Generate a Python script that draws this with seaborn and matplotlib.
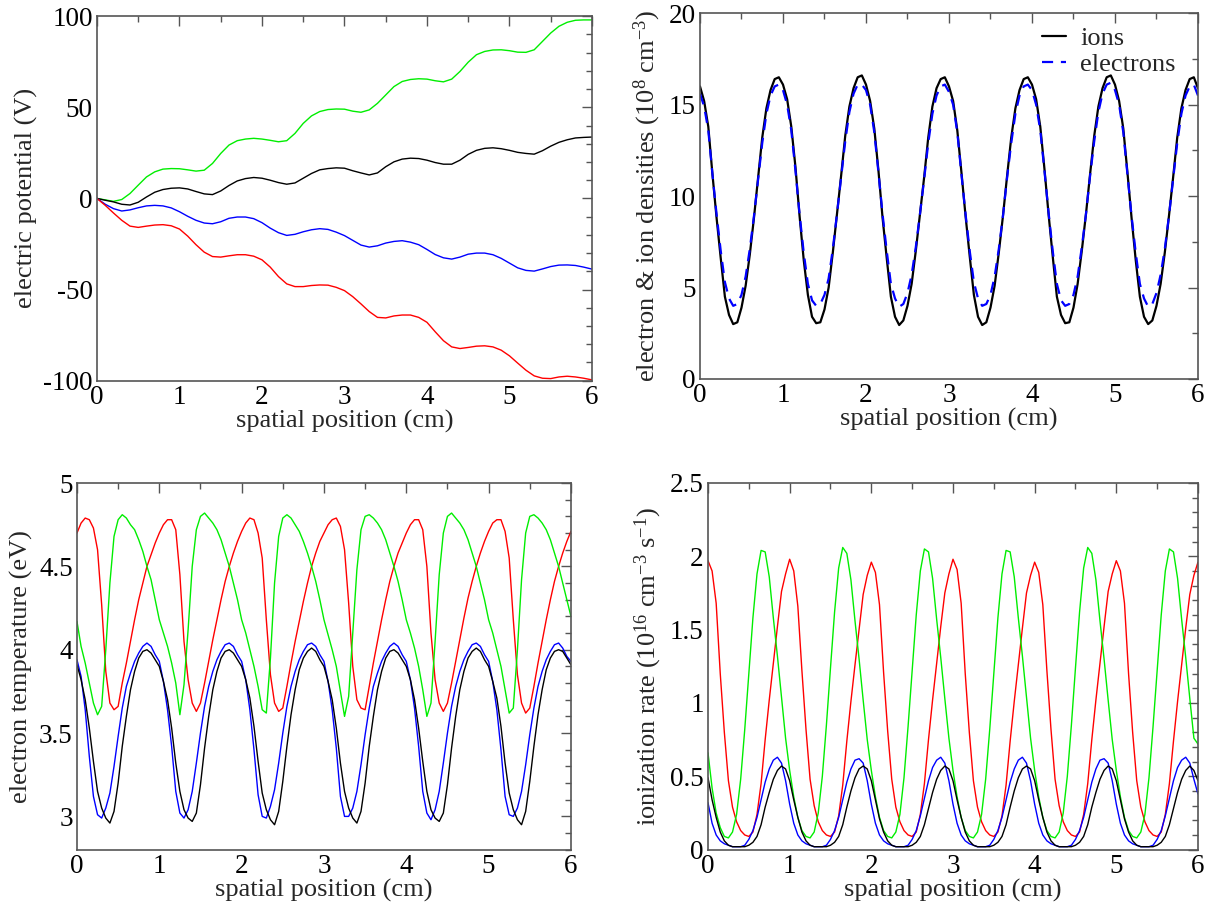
import numpy as np
import pandas as pd
import matplotlib
matplotlib.use("Agg")
import matplotlib.pyplot as plt
from matplotlib.ticker import MultipleLocator
import seaborn as sns

# ---------------------------------------------------------------
# Spatial grids (cm)
# ---------------------------------------------------------------
x_coarse = np.round(np.arange(61) * 0.1, 2)   # potential profiles
x_fine = np.round(np.arange(121) * 0.05, 3)   # densities, temperature, ionization

# ---------------------------------------------------------------
# Electric potential (V), one value per 0.1 cm
# ---------------------------------------------------------------
phi_black = [0, -1.0, -1.9, -3.2, -3.6, -2.1, 0.8, 3.4, 4.9, 5.6,
             5.8, 5.2, 3.8, 2.5, 2.1, 4.1, 7.1, 9.6, 10.9, 11.5,
             11.1, 10.0, 8.7, 7.8, 8.5, 11.1, 13.7, 15.7, 16.4, 16.8,
             16.6, 15.2, 14.0, 12.9, 14.0, 17.4, 20.1, 21.6, 22.1, 21.9,
             21.0, 19.7, 18.8, 18.8, 21.0, 24.2, 26.4, 27.5, 27.8, 27.3,
             26.4, 25.3, 24.7, 24.3, 26.2, 28.7, 30.8, 32.2, 33.2, 33.5,
             33.7]
phi_red = [0, -3.8, -8.0, -12.0, -15.2, -15.9, -15.2, -14.6, -14.4, -15.0,
           -16.8, -20.7, -25.4, -29.5, -31.9, -32.2, -31.5, -30.9, -30.9, -31.7,
           -33.7, -37.7, -42.9, -46.9, -48.4, -48.4, -47.8, -47.5, -47.6, -48.8,
           -50.6, -53.9, -57.9, -62.1, -65.3, -65.6, -64.5, -64.0, -64.0, -65.3,
           -68.0, -73.2, -78.1, -81.5, -82.4, -81.8, -81.1, -80.9, -81.5, -83.3,
           -86.4, -90.4, -94.3, -97.4, -98.7, -98.9, -98.0, -97.6, -98.0, -98.7,
           -99.6]
phi_green = [0, -0.8, -1.6, -0.6, 2.7, 7.3, 11.8, 14.6, 16.1, 16.4,
             16.3, 15.7, 15.0, 15.5, 19.2, 24.7, 29.3, 31.7, 32.6, 33.0,
             32.6, 31.9, 31.1, 31.7, 35.7, 41.2, 45.3, 47.7, 48.8, 49.1,
             49.0, 47.9, 47.3, 48.6, 52.2, 56.8, 61.4, 64.2, 65.3, 65.7,
             65.5, 64.6, 64.0, 65.5, 69.7, 74.8, 78.9, 80.7, 81.5, 81.6,
             81.1, 80.3, 80.2, 81.6, 86.2, 90.8, 94.5, 96.7, 97.8, 98.0,
             98.0]
phi_blue = [0, -3.2, -5.6, -6.9, -6.3, -5.1, -4.1, -3.8, -4.1, -5.2,
            -7.3, -9.8, -12.0, -13.5, -13.9, -12.8, -10.9, -10.2, -10.2, -11.1,
            -13.3, -16.3, -18.8, -20.3, -19.7, -18.3, -17.2, -16.6, -17.0, -18.5,
            -20.4, -23.0, -25.6, -26.7, -26.0, -24.5, -23.6, -23.2, -24.0, -25.4,
            -28.0, -30.8, -32.6, -33.3, -32.2, -30.6, -30.0, -30.0, -30.9, -32.9,
            -35.5, -38.1, -39.5, -39.9, -38.7, -37.4, -36.6, -36.5, -36.8, -37.7,
            -38.8]

# ---------------------------------------------------------------
# Ion and electron densities (1e8 cm^-3), one value per 0.05 cm
# ---------------------------------------------------------------
n_ions = [16.0, 15.2, 13.8, 11.2, 8.8, 6.6, 4.5, 3.5, 3.0, 3.1, 3.9, 5.1, 6.8, 8.8, 11.0, 13.2, 14.8, 15.8, 16.4, 16.5,
          16.1, 15.3, 13.8, 11.6, 8.9, 6.5, 4.6, 3.4, 3.05, 3.1, 3.8, 5.0, 6.9, 9.0, 11.1, 13.3, 14.9, 15.9, 16.5, 16.6,
          16.1, 15.2, 13.7, 11.4, 8.8, 6.6, 4.5, 3.4, 2.95, 3.2, 4.0, 5.2, 7.0, 9.0, 11.0, 13.2, 14.9, 15.9, 16.4, 16.5,
          16.0, 15.2, 13.6, 11.3, 8.9, 6.7, 4.6, 3.4, 2.95, 3.1, 3.9, 5.1, 6.9, 8.9, 11.1, 13.2, 14.8, 15.8, 16.4, 16.5,
          16.1, 15.3, 13.8, 11.5, 9.0, 6.7, 4.5, 3.5, 3.05, 3.1, 3.9, 5.2, 7.0, 9.0, 11.2, 13.3, 14.9, 15.9, 16.5, 16.6,
          16.1, 15.2, 13.7, 11.3, 8.8, 6.5, 4.5, 3.4, 3.0, 3.2, 4.0, 5.2, 6.9, 8.9, 11.0, 13.2, 14.8, 15.8, 16.4, 16.5,
          15.9]
n_electrons = [15.6, 14.9, 13.6, 11.2, 9.0, 7.0, 5.3, 4.4, 4.0, 4.1, 4.6, 5.6, 7.1, 8.9, 10.9, 12.9, 14.5, 15.5, 16.0, 16.1,
               15.8, 15.0, 13.6, 11.4, 9.0, 6.9, 5.2, 4.3, 4.0, 4.1, 4.6, 5.5, 7.1, 9.0, 11.0, 13.0, 14.6, 15.6, 16.1, 16.1,
               15.8, 15.0, 13.5, 11.3, 9.0, 7.0, 5.2, 4.4, 3.95, 4.1, 4.7, 5.7, 7.2, 9.0, 10.9, 12.9, 14.5, 15.5, 16.0, 16.1,
               15.7, 15.0, 13.5, 11.2, 9.0, 7.0, 5.3, 4.4, 4.0, 4.1, 4.6, 5.6, 7.1, 8.9, 11.0, 12.9, 14.5, 15.5, 16.0, 16.1,
               15.8, 15.0, 13.6, 11.4, 9.1, 7.0, 5.2, 4.3, 4.0, 4.1, 4.6, 5.6, 7.2, 9.0, 11.1, 13.0, 14.6, 15.6, 16.1, 16.2,
               15.8, 15.0, 13.5, 11.2, 8.9, 6.9, 5.2, 4.4, 3.95, 4.1, 4.7, 5.7, 7.1, 8.9, 10.9, 12.9, 14.5, 15.5, 16.0, 16.1,
               15.5]

# ---------------------------------------------------------------
# Electron temperature (eV), one value per 0.05 cm
# ---------------------------------------------------------------
te_black = [3.91, 3.82, 3.70, 3.53, 3.33, 3.15, 3.05, 2.99, 2.96, 3.03, 3.20, 3.42, 3.60, 3.76, 3.87, 3.95, 3.99, 4.00, 3.98, 3.94,
            3.90, 3.81, 3.70, 3.53, 3.32, 3.15, 3.04, 2.99, 2.97, 3.02, 3.19, 3.41, 3.60, 3.76, 3.87, 3.95, 3.99, 4.00, 3.98, 3.94,
            3.90, 3.82, 3.71, 3.54, 3.33, 3.14, 3.04, 2.98, 2.95, 3.03, 3.21, 3.42, 3.61, 3.76, 3.88, 3.95, 3.99, 4.01, 3.99, 3.94,
            3.90, 3.81, 3.70, 3.53, 3.32, 3.15, 3.05, 2.99, 2.96, 3.03, 3.20, 3.42, 3.60, 3.76, 3.87, 3.95, 3.99, 4.00, 3.98, 3.94,
            3.90, 3.82, 3.70, 3.53, 3.33, 3.15, 3.04, 2.99, 2.97, 3.02, 3.19, 3.41, 3.60, 3.76, 3.87, 3.95, 3.99, 4.01, 3.99, 3.94,
            3.90, 3.81, 3.71, 3.54, 3.32, 3.14, 3.04, 2.98, 2.95, 3.03, 3.21, 3.42, 3.61, 3.76, 3.88, 3.95, 3.99, 4.00, 3.99, 3.95,
            3.91]
te_red = [4.70, 4.76, 4.79, 4.78, 4.73, 4.60, 4.27, 3.87, 3.68, 3.64, 3.66, 3.80, 3.92, 4.05, 4.18, 4.30, 4.40, 4.50, 4.57, 4.64,
          4.70, 4.75, 4.78, 4.78, 4.72, 4.45, 4.05, 3.82, 3.68, 3.63, 3.68, 3.80, 3.93, 4.06, 4.18, 4.30, 4.41, 4.50, 4.58, 4.65,
          4.71, 4.76, 4.79, 4.78, 4.70, 4.55, 4.18, 3.85, 3.68, 3.63, 3.65, 3.78, 3.92, 4.05, 4.17, 4.29, 4.40, 4.50, 4.58, 4.65,
          4.70, 4.75, 4.78, 4.79, 4.74, 4.60, 4.28, 3.90, 3.70, 3.65, 3.64, 3.78, 3.92, 4.05, 4.18, 4.30, 4.41, 4.50, 4.58, 4.64,
          4.70, 4.75, 4.78, 4.78, 4.72, 4.50, 4.10, 3.82, 3.68, 3.63, 3.68, 3.80, 3.93, 4.06, 4.19, 4.31, 4.41, 4.50, 4.58, 4.65,
          4.71, 4.76, 4.78, 4.78, 4.71, 4.55, 4.18, 3.85, 3.68, 3.62, 3.65, 3.78, 3.92, 4.05, 4.18, 4.30, 4.41, 4.50, 4.58, 4.65,
          4.71]
te_green = [4.17, 4.02, 3.92, 3.80, 3.68, 3.61, 3.66, 4.00, 4.40, 4.68, 4.78, 4.81, 4.79, 4.75, 4.72, 4.66, 4.59, 4.50, 4.42, 4.30,
            4.18, 4.10, 4.02, 3.92, 3.80, 3.61, 3.79, 4.12, 4.50, 4.72, 4.80, 4.82, 4.79, 4.76, 4.72, 4.66, 4.58, 4.50, 4.40, 4.30,
            4.18, 4.10, 4.00, 3.90, 3.78, 3.64, 3.62, 3.95, 4.40, 4.68, 4.79, 4.81, 4.79, 4.75, 4.71, 4.65, 4.58, 4.50, 4.41, 4.30,
            4.18, 4.09, 4.00, 3.90, 3.75, 3.60, 3.72, 4.10, 4.48, 4.72, 4.80, 4.81, 4.79, 4.76, 4.72, 4.66, 4.58, 4.50, 4.41, 4.30,
            4.18, 4.10, 4.01, 3.90, 3.76, 3.60, 3.68, 4.05, 4.45, 4.70, 4.80, 4.82, 4.79, 4.76, 4.72, 4.66, 4.58, 4.50, 4.40, 4.30,
            4.18, 4.10, 4.00, 3.90, 3.76, 3.62, 3.65, 4.00, 4.42, 4.70, 4.80, 4.81, 4.79, 4.76, 4.72, 4.66, 4.58, 4.50, 4.40, 4.30,
            4.20]
te_blue = [3.94, 3.84, 3.64, 3.36, 3.12, 3.01, 2.99, 3.05, 3.14, 3.30, 3.48, 3.65, 3.78, 3.86, 3.93, 3.98, 4.02, 4.04, 4.02, 3.97,
           3.93, 3.81, 3.64, 3.42, 3.15, 3.02, 2.99, 3.04, 3.15, 3.32, 3.50, 3.66, 3.78, 3.87, 3.94, 3.99, 4.03, 4.04, 4.02, 3.97,
           3.93, 3.82, 3.64, 3.40, 3.13, 3.00, 2.99, 3.06, 3.16, 3.32, 3.50, 3.66, 3.78, 3.87, 3.94, 3.99, 4.03, 4.04, 4.02, 3.97,
           3.93, 3.81, 3.64, 3.41, 3.12, 3.00, 3.00, 3.05, 3.15, 3.31, 3.49, 3.65, 3.78, 3.86, 3.93, 3.98, 4.02, 4.04, 4.02, 3.97,
           3.93, 3.82, 3.65, 3.42, 3.15, 3.02, 2.98, 3.04, 3.15, 3.32, 3.50, 3.66, 3.78, 3.87, 3.94, 3.99, 4.03, 4.04, 4.02, 3.97,
           3.93, 3.81, 3.64, 3.40, 3.12, 3.01, 3.00, 3.05, 3.15, 3.31, 3.49, 3.65, 3.78, 3.87, 3.94, 3.99, 4.03, 4.04, 4.01, 3.96,
           3.93]

# ---------------------------------------------------------------
# Ionization rate (1e16 cm^-3 s^-1), one value per 0.05 cm
# ---------------------------------------------------------------
iz_black = [0.49, 0.34, 0.22, 0.12, 0.06, 0.03, 0.02, 0.02, 0.02, 0.02, 0.03, 0.05, 0.09, 0.17, 0.29, 0.39, 0.48, 0.54, 0.57, 0.55,
            0.47, 0.34, 0.22, 0.12, 0.06, 0.03, 0.02, 0.02, 0.02, 0.02, 0.03, 0.05, 0.09, 0.17, 0.29, 0.40, 0.49, 0.55, 0.57, 0.55,
            0.47, 0.34, 0.21, 0.12, 0.06, 0.03, 0.02, 0.02, 0.02, 0.02, 0.03, 0.05, 0.09, 0.17, 0.28, 0.39, 0.48, 0.54, 0.57, 0.55,
            0.47, 0.34, 0.22, 0.12, 0.06, 0.03, 0.02, 0.02, 0.02, 0.02, 0.03, 0.05, 0.09, 0.17, 0.29, 0.40, 0.49, 0.55, 0.57, 0.55,
            0.47, 0.34, 0.22, 0.12, 0.06, 0.03, 0.02, 0.02, 0.02, 0.02, 0.03, 0.05, 0.09, 0.17, 0.29, 0.39, 0.48, 0.54, 0.57, 0.55,
            0.47, 0.34, 0.21, 0.12, 0.06, 0.03, 0.02, 0.02, 0.02, 0.02, 0.03, 0.05, 0.09, 0.17, 0.28, 0.39, 0.48, 0.54, 0.57, 0.54,
            0.47]
iz_red = [1.97, 1.90, 1.68, 1.20, 0.80, 0.47, 0.29, 0.19, 0.13, 0.10, 0.09, 0.12, 0.24, 0.45, 0.75, 1.02, 1.27, 1.52, 1.76, 1.88,
          1.98, 1.90, 1.66, 1.22, 0.82, 0.48, 0.30, 0.19, 0.13, 0.10, 0.09, 0.12, 0.23, 0.44, 0.74, 1.01, 1.26, 1.50, 1.74, 1.87,
          1.96, 1.89, 1.67, 1.21, 0.81, 0.48, 0.29, 0.19, 0.13, 0.10, 0.09, 0.12, 0.24, 0.45, 0.75, 1.02, 1.27, 1.52, 1.75, 1.88,
          1.98, 1.91, 1.68, 1.20, 0.80, 0.47, 0.29, 0.19, 0.13, 0.10, 0.09, 0.12, 0.23, 0.44, 0.74, 1.01, 1.26, 1.51, 1.75, 1.87,
          1.96, 1.89, 1.67, 1.22, 0.82, 0.48, 0.30, 0.19, 0.13, 0.10, 0.09, 0.12, 0.24, 0.45, 0.75, 1.02, 1.27, 1.52, 1.76, 1.88,
          1.97, 1.90, 1.68, 1.20, 0.80, 0.47, 0.29, 0.19, 0.13, 0.10, 0.09, 0.12, 0.24, 0.45, 0.74, 1.01, 1.26, 1.51, 1.74, 1.87,
          1.96]
iz_green = [0.66, 0.42, 0.25, 0.15, 0.09, 0.08, 0.12, 0.24, 0.48, 0.82, 1.20, 1.58, 1.88, 2.04, 2.03, 1.86, 1.58, 1.32, 1.04, 0.76,
            0.54, 0.36, 0.22, 0.13, 0.09, 0.08, 0.12, 0.25, 0.50, 0.85, 1.24, 1.62, 1.92, 2.06, 2.02, 1.84, 1.56, 1.30, 1.02, 0.75,
            0.54, 0.36, 0.22, 0.13, 0.09, 0.08, 0.12, 0.24, 0.49, 0.84, 1.22, 1.60, 1.90, 2.05, 2.03, 1.85, 1.57, 1.31, 1.03, 0.76,
            0.54, 0.36, 0.22, 0.13, 0.09, 0.08, 0.12, 0.24, 0.48, 0.82, 1.20, 1.58, 1.88, 2.04, 2.03, 1.86, 1.58, 1.32, 1.04, 0.76,
            0.54, 0.36, 0.22, 0.13, 0.09, 0.08, 0.12, 0.25, 0.50, 0.85, 1.24, 1.62, 1.92, 2.06, 2.02, 1.84, 1.56, 1.30, 1.02, 0.75,
            0.54, 0.36, 0.22, 0.13, 0.09, 0.08, 0.12, 0.24, 0.49, 0.84, 1.22, 1.60, 1.90, 2.05, 2.03, 1.85, 1.57, 1.31, 1.03, 0.76,
            0.72]
iz_blue = [0.32, 0.18, 0.10, 0.06, 0.04, 0.03, 0.02, 0.02, 0.02, 0.03, 0.07, 0.13, 0.22, 0.34, 0.46, 0.55, 0.61, 0.63, 0.59, 0.47,
           0.31, 0.18, 0.10, 0.06, 0.04, 0.03, 0.02, 0.02, 0.02, 0.03, 0.07, 0.13, 0.22, 0.34, 0.46, 0.55, 0.61, 0.62, 0.59, 0.47,
           0.31, 0.18, 0.10, 0.06, 0.04, 0.03, 0.02, 0.02, 0.02, 0.03, 0.07, 0.13, 0.23, 0.35, 0.47, 0.56, 0.61, 0.63, 0.59, 0.47,
           0.31, 0.18, 0.10, 0.06, 0.04, 0.03, 0.02, 0.02, 0.02, 0.03, 0.07, 0.13, 0.22, 0.34, 0.46, 0.55, 0.61, 0.63, 0.59, 0.47,
           0.31, 0.18, 0.10, 0.06, 0.04, 0.03, 0.02, 0.02, 0.02, 0.03, 0.07, 0.13, 0.22, 0.34, 0.46, 0.55, 0.61, 0.62, 0.59, 0.47,
           0.31, 0.18, 0.10, 0.06, 0.04, 0.03, 0.02, 0.02, 0.02, 0.03, 0.07, 0.13, 0.23, 0.35, 0.47, 0.56, 0.61, 0.63, 0.59, 0.48,
           0.38]

# x tick labels shared by all panels
x_ticks = [0, 1, 2, 3, 4, 5, 6]

# ---------------------------------------------------------------
# Style
# ---------------------------------------------------------------
sns.set_theme(style="white")
plt.rcParams["font.family"] = ["Liberation Serif", "DejaVu Serif"]
plt.rcParams["mathtext.fontset"] = "custom"
plt.rcParams["mathtext.rm"] = "Liberation Serif"
plt.rcParams["mathtext.it"] = "Liberation Serif:italic"
plt.rcParams["axes.unicode_minus"] = False

FRAME = "#555555"
TICK_FS = 19.5
LABEL_FS = 19
LINE_W = 1.0
C_BLACK, C_RED, C_GREEN, C_BLUE = "#000000", "#ff0000", "#00ee00", "#0000ff"

fig = plt.figure(figsize=(12.14, 9.09), dpi=100)
fig.patch.set_facecolor("white")
ax1 = fig.add_axes([0.0799, 0.5813, 0.4077, 0.4008])
ax2 = fig.add_axes([0.5766, 0.5831, 0.4102, 0.4023])
ax3 = fig.add_axes([0.0634, 0.0652, 0.4069, 0.4034])
ax4 = fig.add_axes([0.5832, 0.0653, 0.4036, 0.4034])


def draw(ax, x, y, color, lw=LINE_W, label=None):
    df = pd.DataFrame({"x": x, "y": y})
    sns.lineplot(data=df, x="x", y="y", ax=ax, color=color, lw=lw,
                 estimator=None, sort=False, label=label, legend=False)
    return ax.lines[-1]


def frame(ax, ylim, ymajor, yminor, ylabel):
    ax.set_xlim(0, 6)
    ax.set_ylim(*ylim)
    ax.set_xticks(x_ticks)
    ax.xaxis.set_minor_locator(MultipleLocator(0.5))
    ax.yaxis.set_major_locator(MultipleLocator(ymajor))
    ax.yaxis.set_minor_locator(MultipleLocator(yminor))
    ax.tick_params(which="both", direction="in", top=True, right=True,
                   color=FRAME, labelsize=TICK_FS, labelcolor="black")
    ax.tick_params(which="major", length=7, width=1.0, pad=3)
    ax.tick_params(which="minor", length=4, width=1.0)
    for s in ax.spines.values():
        s.set_color(FRAME)
        s.set_linewidth(1.2)
    ax.set_xlabel("spatial position (cm)", fontsize=LABEL_FS, labelpad=0)
    ax.set_ylabel(ylabel, fontsize=LABEL_FS, labelpad=4)
    ax.set_facecolor("white")


# Panel 1: electric potential
for y, c in [(phi_green, C_GREEN), (phi_black, C_BLACK),
             (phi_blue, C_BLUE), (phi_red, C_RED)]:
    draw(ax1, x_coarse, y, c)
frame(ax1, (-100, 100), 50, 10, "electric potential (V)")

# Panel 2: densities
l_ion = draw(ax2, x_fine, n_ions, C_BLACK, lw=1.6, label="ions")
l_ele = draw(ax2, x_fine, n_electrons, C_BLUE, lw=1.6, label="electrons")
l_ele.set_dashes([5, 3.5])
frame(ax2, (0, 20), 5, 2.5,
      r"electron & ion densities (10$^{8}$ cm$^{-3}$)")
ax2.legend(handles=[l_ion, l_ele], labels=["ions", "electrons"],
           loc="upper right", bbox_to_anchor=(0.955, 0.963),
           frameon=False, fontsize=LABEL_FS, handlelength=0.9,
           handletextpad=0.55, labelspacing=0.08, borderaxespad=0,
           borderpad=0)

# Panel 3: electron temperature
for y, c in [(te_red, C_RED), (te_green, C_GREEN),
             (te_blue, C_BLUE), (te_black, C_BLACK)]:
    draw(ax3, x_fine, y, c)
frame(ax3, (2.8, 5), 0.5, 0.1, "electron temperature (eV)")
ax3.set_yticks([3, 3.5, 4, 4.5, 5])
ax3.set_yticklabels(["3", "3.5", "4", "4.5", "5"])

# Panel 4: ionization rate
for y, c in [(iz_red, C_RED), (iz_green, C_GREEN),
             (iz_blue, C_BLUE), (iz_black, C_BLACK)]:
    draw(ax4, x_fine, y, c)
frame(ax4, (0, 2.5), 0.5, 0.1,
      r"ionization rate (10$^{16}$ cm$^{-3}$ s$^{-1}$)")
ax4.set_yticks([0, 0.5, 1, 1.5, 2, 2.5])
ax4.set_yticklabels(["0", "0.5", "1", "1.5", "2", "2.5"])

ax1.set_yticks([-100, -50, 0, 50, 100])
ax1.set_yticklabels(["-100", "-50", "0", "50", "100"])

fig.savefig("out.png", dpi=100, facecolor="white")
